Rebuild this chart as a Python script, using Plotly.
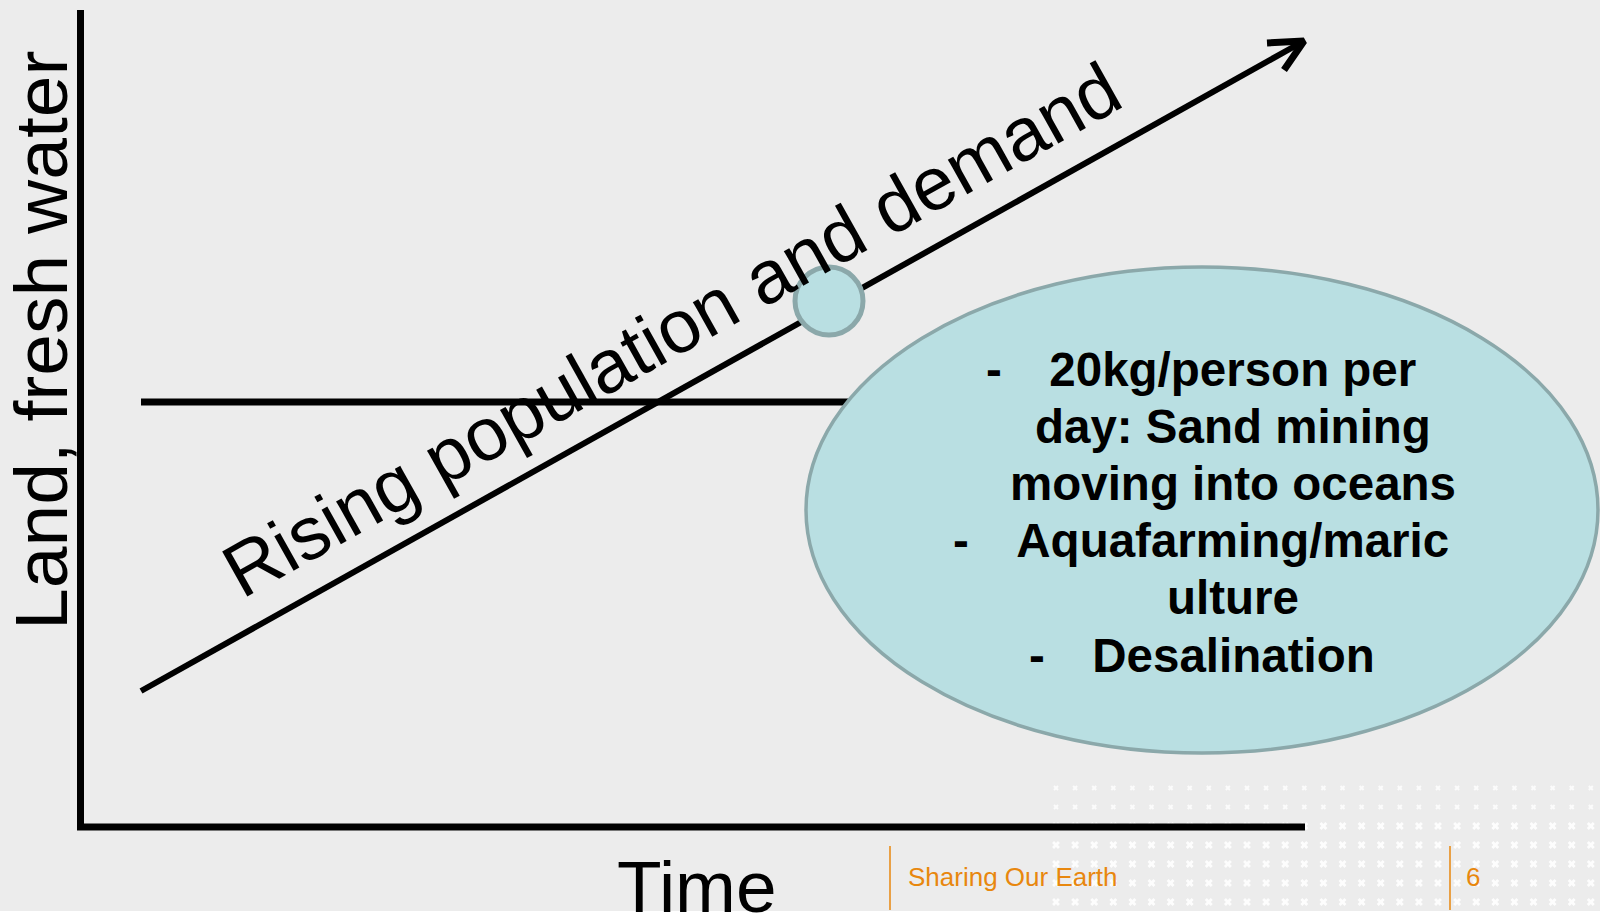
import numpy as np
import plotly.graph_objects as go

# ─── Content ──────────────────────────────────────────────────────────────────

Y_LABEL = "Land, fresh water"
X_LABEL = "Time"
TREND_LABEL = "Rising population and demand"
BULLET_LINES = ["20kg/person per", "day: Sand mining", "moving into oceans",
                "Aquafarming/maric", "ulture", "Desalination"]
BULLET_DASH = [True, False, False, True, False, True]
FOOTER_TEXT = "Sharing Our Earth"
PAGE_NUMBER = "6"

# ─── Style / layout constants (pixel space of the 1600x914 slide) ────────────

W, H = 1600, 914
BG = "#ECECEC"
INK = "#000000"
TEAL = "#B9DFE2"
TEAL_EDGE = "#8BA8AA"
ORANGE = "#E8870E"
FONT = "Liberation Sans, Arial, sans-serif"

AXIS_X0, AXIS_Y_TOP, AXIS_Y0, AXIS_X_END = 80.5, 10, 827, 1305
FLAT_Y, LINE_X0 = 402, 141
TREND_START, TREND_END = (141, 691), (1304, 41)
ELLIPSE = dict(x0=806, x1=1598, y0=267, y1=753)
DOT = dict(cx=829, cy=301, r=34)
TEXT_CX, LINE0_Y, LINE_STEP = 1233, 369, 57.2

fig = go.Figure()

# background texture (decorative white crosses, bottom right)
gx, gy = np.meshgrid(np.arange(1056, 1595, 19.1), np.arange(788, 914, 19))
faint = gy < 815
fig.add_trace(go.Scatter(x=gx[faint], y=gy[faint], mode="markers", hoverinfo="skip",
                         marker=dict(symbol="x-thin", size=4, color="rgba(255,255,255,0.8)",
                                     line=dict(width=2, color="rgba(255,255,255,0.8)"))))
fig.add_trace(go.Scatter(x=gx[~faint], y=gy[~faint], mode="markers", hoverinfo="skip",
                         marker=dict(symbol="x", size=7, color="rgba(255,255,255,0.9)",
                                     line=dict(width=0))))

# axes (L shape)
fig.add_trace(go.Scatter(x=[AXIS_X0, AXIS_X0, AXIS_X_END], y=[AXIS_Y_TOP, AXIS_Y0, AXIS_Y0],
                         mode="lines", line=dict(color=INK, width=7), hoverinfo="skip"))
# flat supply line
fig.add_trace(go.Scatter(x=[LINE_X0, 1000], y=[FLAT_Y, FLAT_Y],
                         mode="lines", line=dict(color=INK, width=7), hoverinfo="skip"))
# rising demand arrow
fig.add_trace(go.Scatter(x=[TREND_START[0], TREND_END[0]], y=[TREND_START[1], TREND_END[1]],
                         mode="lines", line=dict(color=INK, width=6), hoverinfo="skip"))
fig.add_trace(go.Scatter(x=[1267, TREND_END[0], 1284], y=[43, TREND_END[1], 70],
                         mode="lines", line=dict(color=INK, width=7), hoverinfo="skip"))

# ellipse + small connector circle
fig.add_shape(type="circle", layer="above", **ELLIPSE,
              fillcolor=TEAL, line=dict(color=TEAL_EDGE, width=3.5))
fig.add_shape(type="circle", layer="above",
              x0=DOT["cx"] - DOT["r"], x1=DOT["cx"] + DOT["r"],
              y0=DOT["cy"] - DOT["r"], y1=DOT["cy"] + DOT["r"],
              fillcolor=TEAL, line=dict(color=TEAL_EDGE, width=5))

# footer
fig.add_shape(type="line", x0=890, x1=890, y0=846, y1=910, line=dict(color=ORANGE, width=1.5))
fig.add_shape(type="line", x0=1450, x1=1450, y0=846, y1=910, line=dict(color=ORANGE, width=1.5))
fig.add_shape(type="rect", x0=0, x1=W, y0=911, y1=H, fillcolor="white", line=dict(width=0))

ann = []
ann.append(dict(x=41, y=340, text=Y_LABEL, textangle=-90,
                font=dict(family=FONT, size=75, color=INK)))
ann.append(dict(x=697, y=886, text=X_LABEL, font=dict(family=FONT, size=73, color=INK)))
ann.append(dict(x=671, y=330, text=TREND_LABEL, textangle=-29.2,
                font=dict(family=FONT, size=75, color=INK)))

ghost = "<span style='color:rgba(0,0,0,0)'>-</span>"
for i, (line, dash) in enumerate(zip(BULLET_LINES, BULLET_DASH)):
    txt = f"<b>-\u2003{line}\u2003{ghost}</b>" if dash else f"<b>{line}</b>"
    ann.append(dict(x=TEXT_CX, y=LINE0_Y + i * LINE_STEP, text=txt,
                    font=dict(family=FONT, size=47.5, color=INK)))

ann.append(dict(x=906, y=877, text=FOOTER_TEXT, xanchor="left",
                font=dict(family=FONT, size=26, color=ORANGE)))
ann.append(dict(x=1473, y=877, text=PAGE_NUMBER,
                font=dict(family=FONT, size=26, color=ORANGE)))

for a in ann:
    a.setdefault("xanchor", "center")
    a.update(xref="x", yref="y", yanchor="middle", showarrow=False)

fig.update_layout(
    width=W, height=H,
    paper_bgcolor=BG, plot_bgcolor=BG,
    margin=dict(l=0, r=0, t=0, b=0),
    showlegend=False,
    annotations=ann,
    xaxis=dict(range=[0, W], visible=False, fixedrange=True),
    yaxis=dict(range=[H, 0], visible=False, fixedrange=True),
)

fig.write_html("out.html", config={"displayModeBar": False},
               post_script="document.body.style.margin='0';document.body.style.overflow='hidden';")
